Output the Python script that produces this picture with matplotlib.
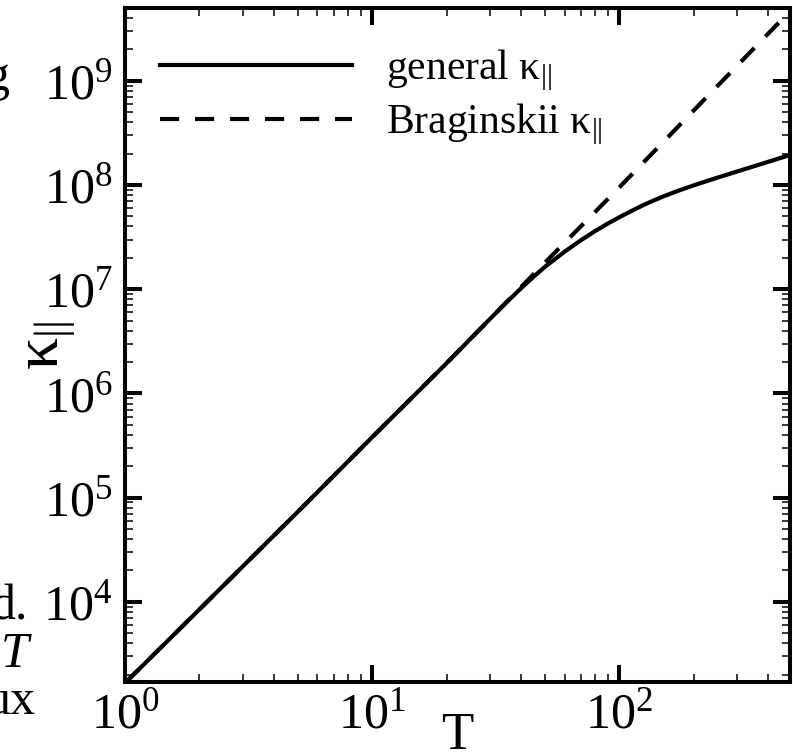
import matplotlib
matplotlib.use("Agg")
import matplotlib.pyplot as plt
from matplotlib.ticker import LogLocator, NullFormatter

plt.rcParams['font.family'] = ['Liberation Serif', 'DejaVu Serif']
plt.rcParams['mathtext.fontset'] = 'custom'
plt.rcParams['mathtext.rm'] = 'Liberation Serif'
plt.rcParams['mathtext.it'] = 'Liberation Serif:italic'
plt.rcParams['mathtext.bf'] = 'Liberation Serif:bold'

# Temperature values
T_brag = [1, 2, 5, 10, 20, 30, 50, 100, 200, 500]
# Braginskii conductivity
kappa_brag = [1.66e3, 8.45e3, 7.3e4, 3.8e5, 1.95e6, 5.2e6, 1.8e7, 9.5e7, 5.2e8, 4.9e9]

T_gen = [1, 2, 5, 10, 20, 30, 35, 40, 45, 50, 60, 70, 80, 90, 100, 110, 120, 130, 150,
         175, 200, 250, 300, 400, 500]
# general conductivity
kappa_gen = [1.66e3, 8.45e3, 7.3e4, 3.8e5, 1.95e6, 5.2e6, 7.5e6, 1.02e7, 1.32e7, 1.64e7,
             2.29e7, 2.96e7, 3.63e7, 4.28e7, 4.91e7, 5.52e7, 6.12e7, 6.7e7, 7.75e7,
             8.9e7, 9.93e7, 1.18e8, 1.35e8, 1.67e8, 1.97e8]

fig = plt.figure(figsize=(7.93, 7.55), dpi=100)
ax = fig.add_axes([0.1576, 0.0967, 0.8386, 0.8927])

ax.plot(T_gen, kappa_gen, color='black', lw=3.0, label='general κ$_{||}$')
ax.plot(T_brag, kappa_brag, color='black', lw=3.0, linestyle=(0, (4.6, 3.8)),
        label='Braginskii κ$_{||}$')

ax.set_xscale('log')
ax.set_yscale('log')
ax.set_xlim(1, 490)
ax.set_ylim(1.7e3, 5e9)

ax.xaxis.set_major_locator(LogLocator(base=10, numticks=10))
ax.yaxis.set_major_locator(LogLocator(base=10, numticks=10))
ax.xaxis.set_minor_locator(LogLocator(base=10, subs=range(2, 10), numticks=20))
ax.yaxis.set_minor_locator(LogLocator(base=10, subs=range(2, 10), numticks=20))
ax.xaxis.set_minor_formatter(NullFormatter())
ax.yaxis.set_minor_formatter(NullFormatter())

ax.tick_params(which='both', direction='in', top=True, right=True, labelsize=36)
ax.tick_params(which='major', length=12, width=2.9)
ax.tick_params(axis='y', which='major', pad=9)
ax.tick_params(axis='x', which='major', pad=7)
ax.tick_params(which='minor', length=6, width=1.1)
for s in ax.spines.values():
    s.set_linewidth(2.9)

ax.set_xlabel('T', fontsize=38, labelpad=-19)
ax.set_ylabel('κ$_{||}$', fontsize=46)
ax.yaxis.set_label_coords(-0.072, 0.5)

ax.legend(loc='upper left', bbox_to_anchor=(160 / 793, 1 - 48 / 755),
          bbox_transform=fig.transFigure, frameon=False, fontsize=30,
          handlelength=4.6, handletextpad=0.83, labelspacing=0.2,
          borderpad=0, borderaxespad=0)

# bits of text from the neighbouring panel, cut by the crop
fig.text(10 / 793, 1 - 90 / 755, 'g', fontsize=36, ha='right', va='baseline')
fig.text(28 / 793, 1 - 620 / 755, 'd.', fontsize=36, ha='right', va='baseline')
fig.text(28 / 793, 1 - 667 / 755, 'T', fontsize=36, ha='right', va='baseline',
         style='italic')
fig.text(35 / 793, 1 - 713 / 755, 'ux', fontsize=36, ha='right', va='baseline')

plt.savefig('out.png', dpi=100)
